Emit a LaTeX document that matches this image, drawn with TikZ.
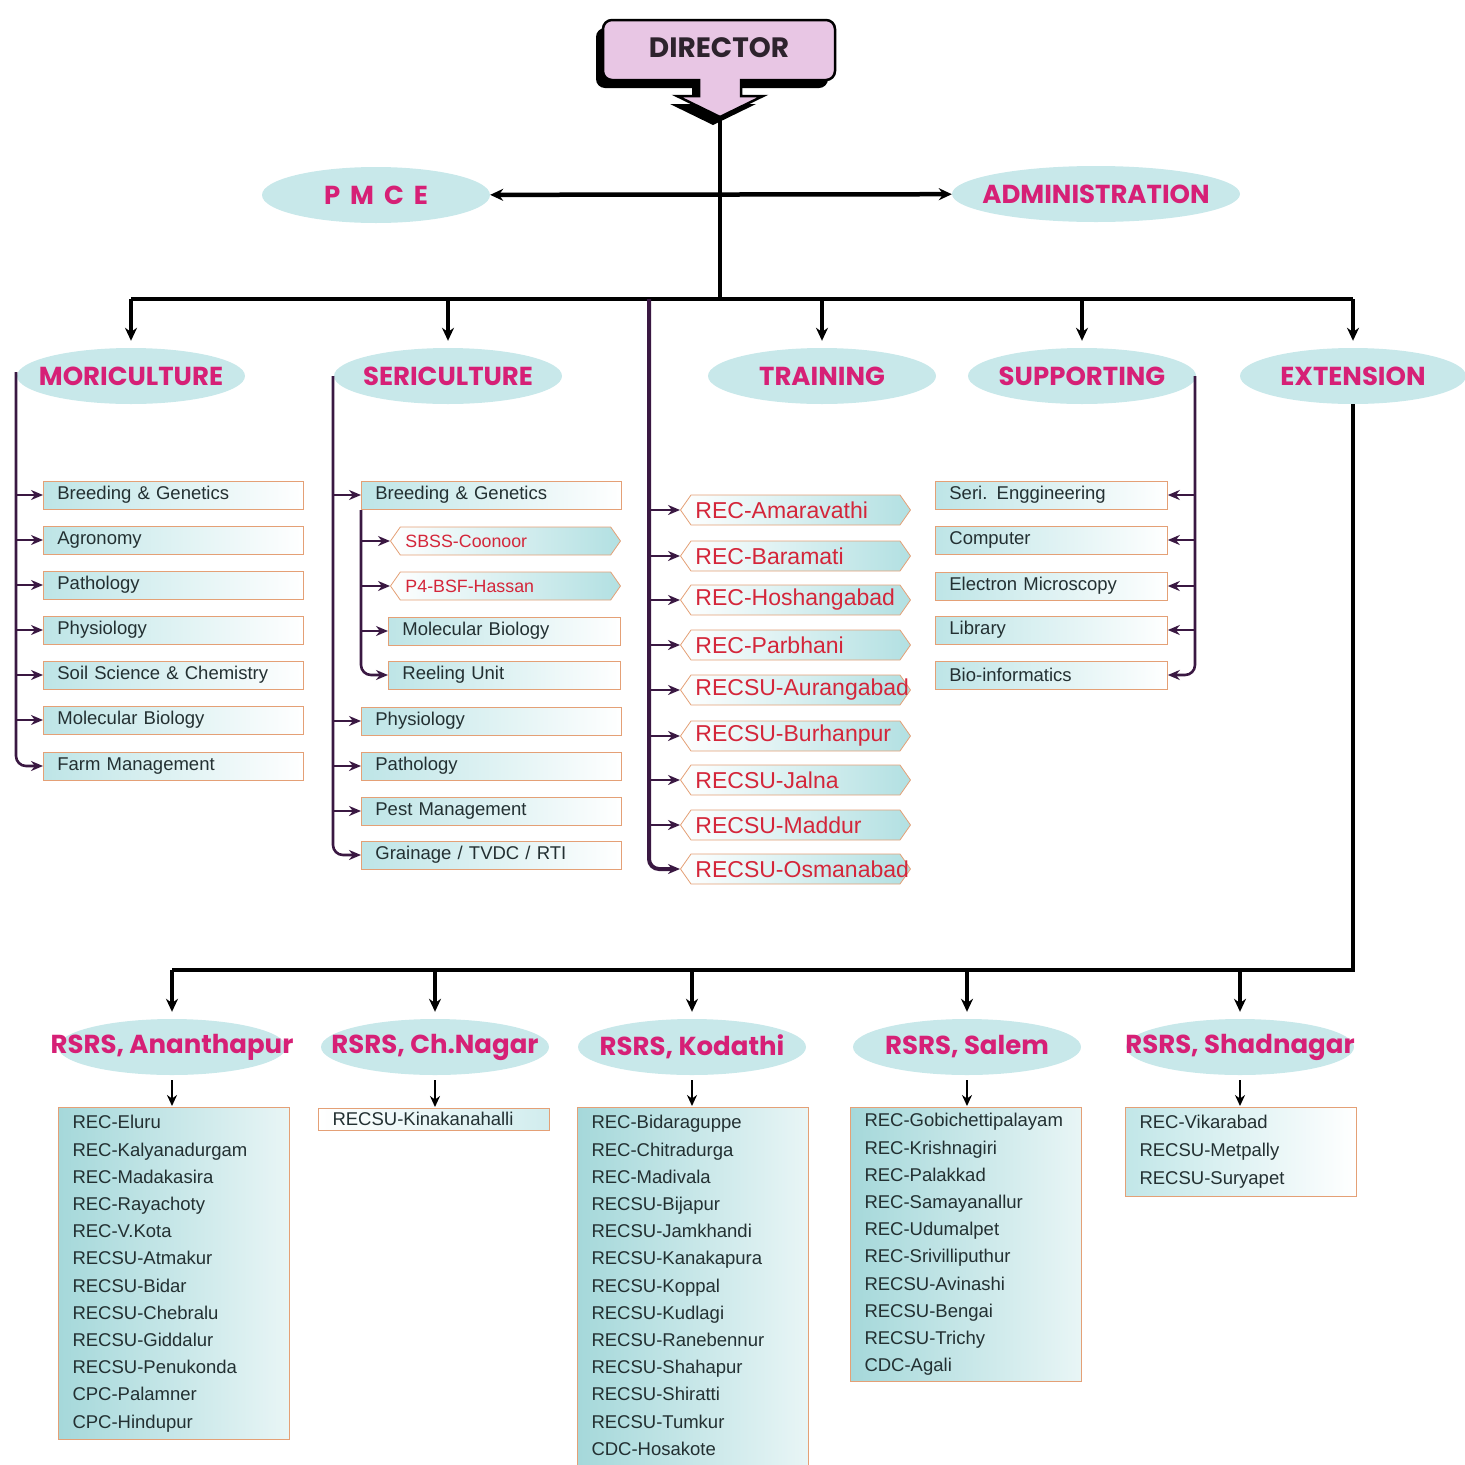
\documentclass[tikz,border=0pt]{standalone}
\usepackage{fontspec}
\setmainfont{Liberation Sans}
\newfontfamily\headfont{Poppins}
\usepackage{tikz}
\usetikzlibrary{shapes.geometric,shapes.symbols}
\usetikzlibrary{arrows.meta}

\definecolor{headpink}{RGB}{214,32,118}
\definecolor{ellfill}{RGB}{200,232,234}
\definecolor{boxedge}{RGB}{228,160,118}
\definecolor{boxteal}{RGB}{178,224,226}
\definecolor{listteal}{RGB}{165,216,218}
\definecolor{barpurple}{RGB}{58,24,66}
\definecolor{dirpink}{RGB}{232,198,228}
\definecolor{dirtext}{RGB}{45,35,45}
\definecolor{recred}{RGB}{212,38,58}
\definecolor{unittext}{RGB}{35,48,50}

\tikzset{
  head/.style={ellipse, fill=ellfill, inner sep=0pt, minimum width=228pt,
    minimum height=56pt},
  headtext/.style={text=headpink, inner sep=0pt,
    font=\headfont\bfseries\fontsize{26}{30}\selectfont},
  unit/.style={draw=boxedge, line width=0.8pt, left color=boxteal!85, right color=white,
    anchor=west, minimum height=28pt, inner xsep=14pt, inner ysep=0pt,
    text width=232pt, align=left, text=unittext, font=\fontsize{18.5}{20}\selectfont},
  site/.style={signal, signal to=west and east, signal pointer angle=110,
    draw=boxedge, line width=0.8pt, left color=white, right color=boxteal,
    anchor=west, minimum height=30pt, minimum width=230pt, inner xsep=3pt, inner ysep=0pt,
    text=recred, font=\fontsize{23}{24}\selectfont},
  list/.style={draw=boxedge, line width=1pt, left color=listteal, right color=listteal!25,
    anchor=north west, inner xsep=14pt, inner ysep=8pt, text width=203pt,
    align=left, text=unittext, font=\fontsize{18.5}{27.2}\selectfont},
  bus/.style={draw=black, line width=4.5pt},
  busarrow/.style={bus, -{Stealth[length=13pt,width=12pt]}, shorten >=7pt},
  feed/.style={draw=barpurple, line width=2.6pt, -{Stealth[length=12pt,width=10pt]}},
  drop/.style={draw=black, line width=2.2pt, -{Stealth[length=11pt,width=10pt]},
    shorten <=5pt, shorten >=1pt}
}

\begin{document}
\begin{tikzpicture}[x=1pt,y=-1pt]
\useasboundingbox (0,0) rectangle (1465,1465);

\fill[black, shift={(-7,8)}] (603,50) [rounded corners=9pt] -- (603,20) -- (835,20) -- (835,80)
  [sharp corners] -- (741,80) -- (741,96) -- (763,96) -- (720,117) -- (677,96) -- (699,96)
  -- (699,80) [rounded corners=9pt] -- (603,80) -- cycle;
\filldraw[fill=dirpink, draw=black, line width=2.5pt] (603,50) [rounded corners=9pt] -- (603,20)
  -- (835,20) -- (835,80) [sharp corners] -- (741,80) -- (741,96) -- (763,96) -- (720,117)
  -- (677,96) -- (699,96) -- (699,80) [rounded corners=9pt] -- (603,80) -- cycle;
\node[font=\headfont\bfseries\fontsize{28}{30}\selectfont, text=dirtext] at (719,48) (dir) {DIRECTOR};
\coordinate (dtip) at (720,117);
\coordinate (hub) at (720,299);

\node[head, label={[headtext]center:P\hspace{10pt}M\hspace{10pt}C\hspace{10pt}E}] at (376,195) (pmce) {};
\node[head, minimum width=288pt, label={[headtext]center:ADMINISTRATION}] at (1096,194) (adm) {};

\node[head, label={[headtext]center:MORICULTURE}] at (131,376) (mor) {};
\node[head, label={[headtext]center:SERICULTURE}] at (448,376) (ser) {};
\node[head, label={[headtext]center:TRAINING}] at (822,376) (trn) {};
\node[head, label={[headtext]center:SUPPORTING}] at (1082,376) (sup) {};
\node[head, minimum width=226pt, label={[headtext]center:EXTENSION}] at (1353,376) (ext) {};

\draw[bus] (dtip) -- (hub);
\draw[bus, {Stealth[length=13pt,width=12pt]}-{Stealth[length=13pt,width=12pt]}] (pmce) -- (adm);
\draw[bus] (mor.north |- hub) -- (ext.north |- hub);
\draw[busarrow] (mor.north |- hub) -- (mor.north);
\draw[busarrow] (ser.north |- hub) -- (ser.north);
\draw[busarrow] (trn.north |- hub) -- (trn.north);
\draw[busarrow] (sup.north |- hub) -- (sup.north);
\draw[busarrow] (ext.north |- hub) -- (ext.north);

\node[unit] at (43,495) (m1) {Breeding \& Genetics};
\node[unit] at (43,540) (m2) {Agronomy};
\node[unit] at (43,585) (m3) {Pathology};
\node[unit] at (43,630) (m4) {Physiology};
\node[unit] at (43,675) (m5) {Soil Science \& Chemistry};
\node[unit] at (43,720) (m6) {Molecular Biology};
\node[unit] at (43,766) (m7) {Farm Management};
\coordinate (mbar) at (16,372);
\draw[feed] (mbar |- m1.west) -- (m1.west);
\draw[feed] (mbar |- m2.west) -- (m2.west);
\draw[feed] (mbar |- m3.west) -- (m3.west);
\draw[feed] (mbar |- m4.west) -- (m4.west);
\draw[feed] (mbar |- m5.west) -- (m5.west);
\draw[feed] (mbar |- m6.west) -- (m6.west);
\draw[feed, rounded corners=10pt] (mbar) |- (m7.west);

\node[unit] at (361,495) (s1) {Breeding \& Genetics};
\node[site, minimum height=28pt, font=\fontsize{17.8}{19}\selectfont] at (390,541) (s2) {\makebox[200pt][l]{SBSS-Coonoor}};
\node[site, minimum height=28pt, font=\fontsize{17.8}{19}\selectfont] at (390,586) (s3) {\makebox[200pt][l]{P4-BSF-Hassan}};
\node[unit, text width=204pt] at (388,631) (s4) {Molecular Biology};
\node[unit, text width=204pt] at (388,675) (s5) {Reeling Unit};
\node[unit] at (361,721) (s6) {Physiology};
\node[unit] at (361,766) (s7) {Pathology};
\node[unit] at (361,811) (s8) {Pest Management};
\node[unit] at (361,855) (s9) {Grainage / TVDC / RTI};
\coordinate (sbar) at (333,376);
\coordinate (subbar) at (361,510);
\draw[feed] (sbar |- s1.west) -- (s1.west);
\draw[feed] (sbar |- s6.west) -- (s6.west);
\draw[feed] (sbar |- s7.west) -- (s7.west);
\draw[feed] (sbar |- s8.west) -- (s8.west);
\draw[feed, rounded corners=10pt] (sbar) |- (s9.west);
\draw[feed] (subbar |- s2.west) -- (s2.west);
\draw[feed] (subbar |- s3.west) -- (s3.west);
\draw[feed] (subbar |- s4.west) -- (s4.west);
\draw[feed, rounded corners=10pt] (subbar) |- (s5.west);

\node[site] at (680,510) (t1) {\makebox[200pt][l]{REC-Amaravathi}};
\node[site] at (680,556) (t2) {\makebox[200pt][l]{REC-Baramati}};
\node[site] at (680,600) (t3) {\makebox[200pt][l]{REC-Hoshangabad}};
\node[site] at (680,645) (t4) {\makebox[200pt][l]{REC-Parbhani}};
\node[site] at (680,690) (t5) {\makebox[200pt][l]{RECSU-Aurangabad}};
\node[site] at (680,736) (t6) {\makebox[200pt][l]{RECSU-Burhanpur}};
\node[site] at (680,780) (t7) {\makebox[200pt][l]{RECSU-Jalna}};
\node[site] at (680,825) (t8) {\makebox[200pt][l]{RECSU-Maddur}};
\node[site] at (680,869) (t9) {\makebox[200pt][l]{RECSU-Osmanabad}};
\coordinate (tbar) at (649,299);
\draw[feed] (tbar |- t1.west) -- (t1.west);
\draw[feed] (tbar |- t2.west) -- (t2.west);
\draw[feed] (tbar |- t3.west) -- (t3.west);
\draw[feed] (tbar |- t4.west) -- (t4.west);
\draw[feed] (tbar |- t5.west) -- (t5.west);
\draw[feed] (tbar |- t6.west) -- (t6.west);
\draw[feed] (tbar |- t7.west) -- (t7.west);
\draw[feed] (tbar |- t8.west) -- (t8.west);
\draw[feed, line width=4pt, rounded corners=10pt] (tbar) |- (t9.west);

\node[unit, text width=204pt] at (935,495) (u1) {Seri. Enggineering};
\node[unit, text width=204pt] at (935,540) (u2) {Computer};
\node[unit, text width=204pt] at (935,586) (u3) {Electron Microscopy};
\node[unit, text width=204pt] at (935,630) (u4) {Library};
\node[unit, text width=204pt] at (935,675) (u5) {Bio-informatics};
\coordinate (ubar) at (1195,376);
\draw[feed] (ubar |- u1.east) -- (u1.east);
\draw[feed] (ubar |- u2.east) -- (u2.east);
\draw[feed] (ubar |- u3.east) -- (u3.east);
\draw[feed] (ubar |- u4.east) -- (u4.east);
\draw[feed, rounded corners=10pt] (ubar) |- (u5.east);

\node[head, label={[headtext]center:{RSRS, Ananthapur}}] at (172,1047) (rA) {};
\node[head, label={[headtext]center:{RSRS, Ch.Nagar}}] at (435,1047) (rB) {};
\node[head, label={[headtext]center:{RSRS, Kodathi}}] at (692,1047) (rC) {};
\node[head, label={[headtext]center:{RSRS, Salem}}] at (967,1047) (rD) {};
\node[head, label={[headtext]center:{RSRS, Shadnagar}}] at (1240,1047) (rE) {};
\coordinate (ebus) at (0,970);
\draw[bus] (ext.south) |- (rA.north |- ebus);
\draw[busarrow] (rA.north |- ebus) -- (rA.north);
\draw[busarrow] (rB.north |- ebus) -- (rB.north);
\draw[busarrow] (rC.north |- ebus) -- (rC.north);
\draw[busarrow] (rD.north |- ebus) -- (rD.north);
\draw[busarrow] (rE.north |- ebus) -- (rE.north);

\node[list] at (58,1107) (lA) {REC-Eluru\\REC-Kalyanadurgam\\REC-Madakasira\\REC-Rayachoty\\
  REC-V.Kota\\RECSU-Atmakur\\RECSU-Bidar\\RECSU-Chebralu\\RECSU-Giddalur\\
  RECSU-Penukonda\\CPC-Palamner\\CPC-Hindupur};
\node[list, left color=white, right color=boxteal!60, inner ysep=4pt] at (318,1108) (lB) {RECSU-Kinakanahalli};
\node[list] at (577,1107) (lC) {REC-Bidaraguppe\\REC-Chitradurga\\REC-Madivala\\RECSU-Bijapur\\
  RECSU-Jamkhandi\\RECSU-Kanakapura\\RECSU-Koppal\\RECSU-Kudlagi\\RECSU-Ranebennur\\
  RECSU-Shahapur\\RECSU-Shiratti\\RECSU-Tumkur\\CDC-Hosakote\\\mbox{}};
\node[list, inner ysep=6pt] at (850,1107) (lD) {REC-Gobichettipalayam\\REC-Krishnagiri\\REC-Palakkad\\
  REC-Samayanallur\\REC-Udumalpet\\REC-Srivilliputhur\\RECSU-Avinashi\\RECSU-Bengai\\
  RECSU-Trichy\\CDC-Agali};
\node[list, left color=boxteal!80, right color=white, font=\fontsize{18.5}{28}\selectfont] at (1125,1107) (lE) {REC-Vikarabad\\RECSU-Metpally\\RECSU-Suryapet};
\draw[drop] (rA.south) -- (rA.south |- lA.north);
\draw[drop] (rB.south) -- (rB.south |- lB.north);
\draw[drop] (rC.south) -- (rC.south |- lC.north);
\draw[drop] (rD.south) -- (rD.south |- lD.north);
\draw[drop] (rE.south) -- (rE.south |- lE.north);

\end{tikzpicture}
\end{document}
